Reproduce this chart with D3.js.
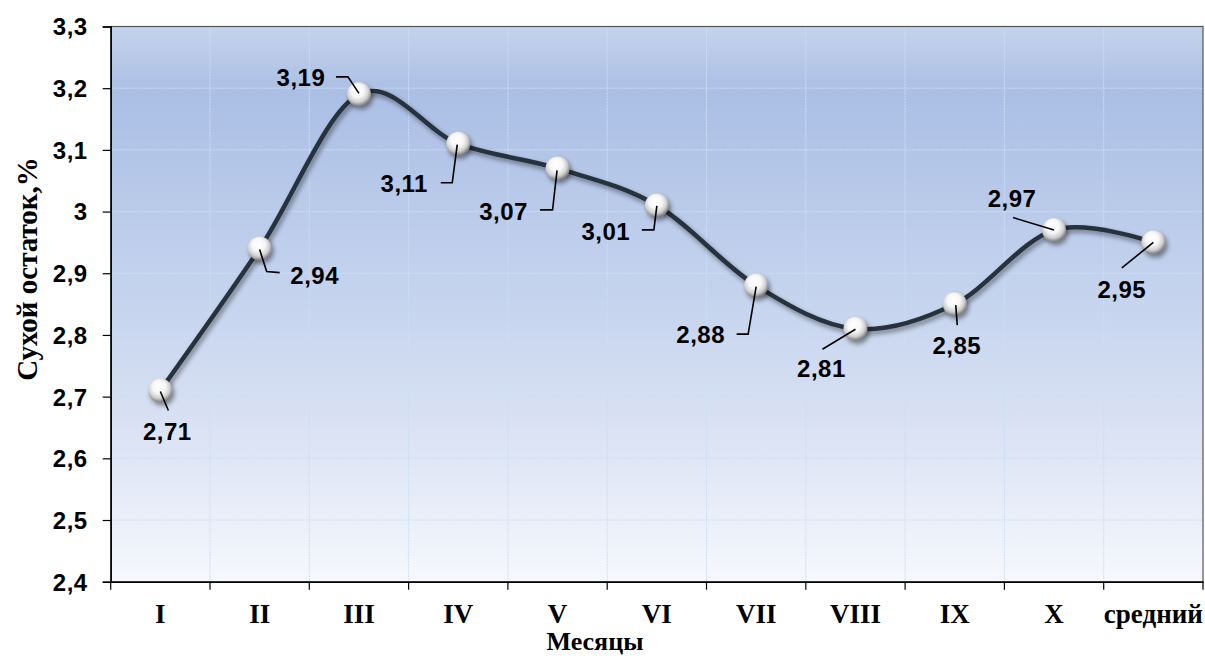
<!DOCTYPE html>
<html>
<head>
<meta charset="utf-8">
<script src="https://cdn.jsdelivr.net/npm/d3@7"></script>
<style>
  html, body { margin: 0; padding: 0; background: #ffffff; }
  svg { display: block; }
</style>
</head>
<body>
<svg id="chart" width="1205" height="659"></svg>
<script>
// ---- data ----
const categories = ["I", "II", "III", "IV", "V", "VI", "VII", "VIII", "IX", "X", "средний"];
const values = [2.71, 2.94, 3.19, 3.11, 3.07, 3.01, 2.88, 2.81, 2.85, 2.97, 2.95];
const yTicks = [2.4, 2.5, 2.6, 2.7, 2.8, 2.9, 3.0, 3.1, 3.2, 3.3];
const yTickLabels = ["2,4", "2,5", "2,6", "2,7", "2,8", "2,9", "3", "3,1", "3,2", "3,3"];
const xTitle = "Месяцы";
const yTitle = "Сухой остаток,%";

// ---- layout (label placement relative to each marker) ----
const labelLayout = [
  { dx: 7,   dy: 41,  leader: [[0, 1], [8, 20]] },
  { dx: 55,  dy: 26.5, leader: [[0, 1], [7, 23], [20, 24]] },
  { dx: -58, dy: -16.5, leader: [[0, -1], [-11, -17.5], [-23, -17.5]] },
  { dx: -54, dy: 40,  leader: [[-1, 1], [-6, 39], [-17.5, 39]] },
  { dx: -54, dy: 43,  leader: [[-0.5, 2], [-5, 41.5], [-17.5, 41.5]] },
  { dx: -51, dy: 26,  leader: [[0, 0.5], [-3, 24.5], [-15, 24.5]] },
  { dx: -55.5, dy: 49, leader: [[0, 1], [-8, 48.5], [-19.5, 48.5]] },
  { dx: -34, dy: 40,  leader: [[0, 0.5], [-33, 20.5]] },
  { dx: 2,   dy: 41,  leader: [[1, 1], [2.5, 21]] },
  { dx: -42, dy: -32, leader: [[0, 0], [-41, -12.5]] },
  { dx: -31.5, dy: 46.5, leader: [[0, 0], [-31.5, 25.5]] }
];

const fmt = v => String(v).replace(".", ",");

const svg = d3.select("#chart");
const margin = { left: 110.7, right: 2, top: 26.5, bottom: 77.3 };
const W = 1205, H = 659;
const plotW = W - margin.left - margin.right;
const plotH = H - margin.top - margin.bottom;

const x = d3.scaleBand().domain(categories).range([0, plotW]).paddingInner(0).paddingOuter(0);
const y = d3.scaleLinear().domain([2.4, 3.3]).range([plotH, 0]);

const defs = svg.append("defs");
const bg = defs.append("linearGradient").attr("id", "bg").attr("x1", 0).attr("y1", 0).attr("x2", 0).attr("y2", 1);
[[0, "#c4d2ec"], [0.12, "#abbfe5"], [0.5, "#c6d4ee"], [0.78, "#dfe6f5"], [1, "#f6f8fd"]]
  .forEach(([o, c]) => bg.append("stop").attr("offset", o).attr("stop-color", c));

const ball = defs.append("radialGradient").attr("id", "ball")
  .attr("cx", 0.45).attr("cy", 0.4).attr("r", 0.6).attr("fx", 0.45).attr("fy", 0.3);
[[0, "#ffffff"], [0.45, "#f7f7f7"], [0.75, "#cfcfcf"], [1, "#767676"]]
  .forEach(([o, c]) => ball.append("stop").attr("offset", o).attr("stop-color", c));

const sh = defs.append("filter").attr("id", "shadow").attr("x", -0.2).attr("y", -0.2).attr("width", 1.5).attr("height", 1.5);
sh.append("feGaussianBlur").attr("in", "SourceAlpha").attr("stdDeviation", 2.5).attr("result", "b");
sh.append("feOffset").attr("in", "b").attr("dx", 2).attr("dy", 3).attr("result", "o");
sh.append("feComponentTransfer").attr("in", "o").attr("result", "s")
  .append("feFuncA").attr("type", "linear").attr("slope", 0.45);
const mg = sh.append("feMerge");
mg.append("feMergeNode").attr("in", "s");
mg.append("feMergeNode").attr("in", "SourceGraphic");

const g = svg.append("g").attr("transform", `translate(${margin.left},${margin.top})`);

// plot background
g.append("rect").attr("width", plotW).attr("height", plotH).attr("fill", "url(#bg)");

// gridlines
g.append("g").selectAll("line.h").data(yTicks.slice(1, -1)).join("line")
  .attr("x1", 0).attr("x2", plotW).attr("y1", d => y(d)).attr("y2", d => y(d))
  .attr("stroke", "#cadef5").attr("stroke-width", 1).attr("stroke-dasharray", "2,1");
g.append("g").selectAll("line.v").data(categories.slice(1)).join("line")
  .attr("x1", d => x(d)).attr("x2", d => x(d)).attr("y1", 0).attr("y2", plotH)
  .attr("stroke", "#cadef5").attr("stroke-width", 1).attr("stroke-dasharray", "2,1");

// frame
g.append("rect").attr("width", plotW).attr("height", plotH).attr("fill", "none")
  .attr("stroke", "#555").attr("stroke-width", 1.2);

// axes
const yAxis = d3.axisLeft(y).tickValues(yTicks).tickSize(8).tickFormat((d, i) => yTickLabels[i]);
const ya = g.append("g").call(yAxis);
ya.select(".domain").attr("stroke", "#000").attr("stroke-width", 1.5);
ya.selectAll(".tick line").attr("stroke", "#000").attr("stroke-width", 1.2);
ya.selectAll(".tick text").attr("x", -23).attr("dy", "0.35em")
  .attr("font-family", "Liberation Sans, Arial, sans-serif").attr("font-weight", "bold")
  .attr("font-size", 24).attr("letter-spacing", "0.5px").attr("fill", "#000");

const xAxis = d3.axisBottom(x).tickSize(0).tickSizeOuter(0);
const xa = g.append("g").attr("transform", `translate(0,${plotH})`).call(xAxis);
xa.select(".domain").attr("stroke", "#000").attr("stroke-width", 1.5);
xa.selectAll(".tick text").attr("y", 0).attr("dy", 41)
  .attr("font-family", "Liberation Serif, Times New Roman, serif").attr("font-weight", "bold")
  .attr("font-size", 27).attr("fill", "#000");
// category boundary ticks
xa.append("g").selectAll("line").data(categories.concat(["end"])).join("line")
  .attr("x1", (d, i) => i * x.bandwidth()).attr("x2", (d, i) => i * x.bandwidth())
  .attr("y1", 0).attr("y2", 8).attr("stroke", "#000").attr("stroke-width", 1.2);

// titles
svg.append("text").attr("x", 595).attr("y", 650)
  .attr("text-anchor", "middle")
  .attr("font-family", "Liberation Serif, Times New Roman, serif").attr("font-weight", "bold")
  .attr("font-size", 26).text(xTitle);
svg.append("text").attr("transform", "translate(37,269) rotate(-90)")
  .attr("text-anchor", "middle")
  .attr("font-family", "Liberation Serif, Times New Roman, serif").attr("font-weight", "bold")
  .attr("font-size", 29).text(yTitle);

// line
const pts = categories.map((c, i) => ({ c, v: values[i], px: x(c) + x.bandwidth() / 2, py: y(values[i]) }));
const line = d3.line().x(d => d.px).y(d => d.py).curve(d3.curveCatmullRom.alpha(0));
g.append("path").datum(pts).attr("d", line).attr("fill", "none")
  .attr("stroke", "#27313c").attr("stroke-width", 4.5).attr("filter", "url(#shadow)");

// markers
g.append("g").selectAll("circle").data(pts).join("circle")
  .attr("cx", d => d.px).attr("cy", d => d.py).attr("r", 12)
  .attr("fill", "url(#ball)").attr("filter", "url(#shadow)");

// leaders
g.append("g").selectAll("polyline").data(pts).join("polyline")
  .attr("points", (d, i) => labelLayout[i].leader.map(p => [d.px + p[0], d.py + p[1]].join(",")).join(" "))
  .attr("fill", "none").attr("stroke", "#000").attr("stroke-width", 1.6);

// labels
g.append("g").selectAll("text").data(pts).join("text")
  .attr("x", (d, i) => d.px + labelLayout[i].dx)
  .attr("y", (d, i) => d.py + labelLayout[i].dy)
  .attr("dy", "0.36em").attr("text-anchor", "middle")
  .attr("font-family", "Liberation Sans, Arial, sans-serif").attr("font-weight", "bold")
  .attr("font-size", 24).attr("letter-spacing", "0.5px").attr("fill", "#000")
  .text(d => fmt(d.v));
</script>
</body>
</html>
